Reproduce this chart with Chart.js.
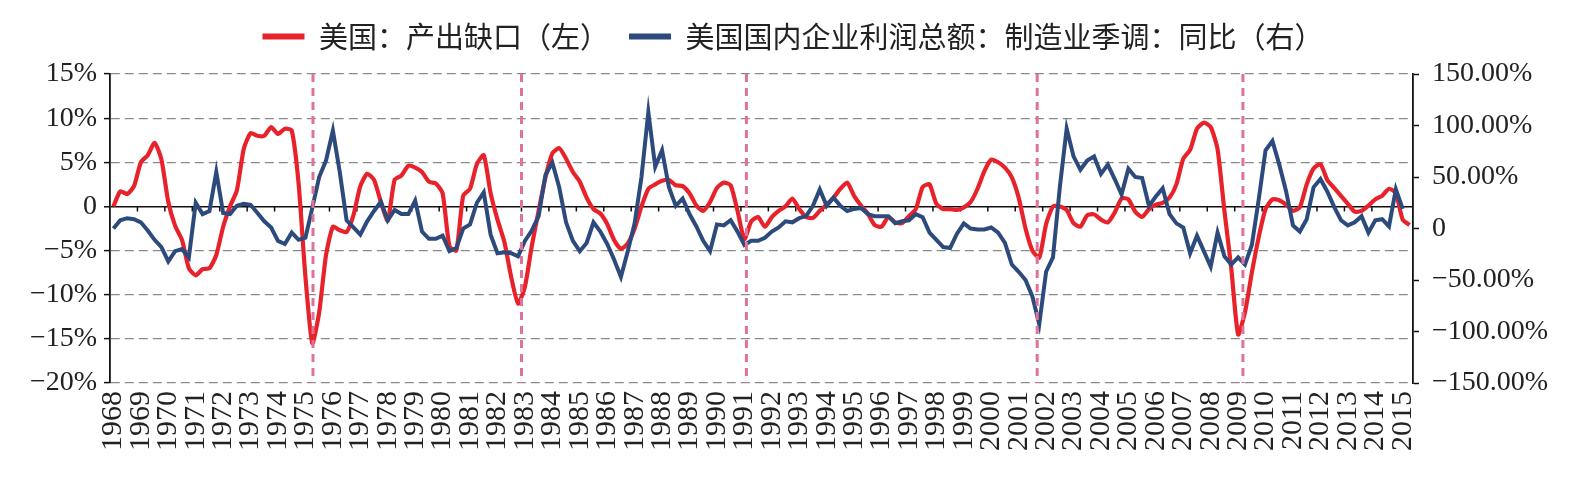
<!DOCTYPE html>
<html>
<head>
<meta charset="utf-8">
<script src="https://cdn.jsdelivr.net/npm/chart.js@4.4.0/dist/chart.umd.min.js"></script>
<style>
  html, body { margin: 0; padding: 0; background: #fff; }
  #wrap { width: 1586px; height: 477px; }
</style>
</head>
<body>
<div id="wrap"><canvas id="gapChart"></canvas></div>
<script>
// quarterly categories, 1968Q1 .. 2015Q2
const quarters = [];
for (let y = 1968; quarters.length < 190; y++) {
    for (let q = 1; q <= 4 && quarters.length < 190; q++) quarters.push(y + 'Q' + q);
}

const gapLabel = '美国：产出缺口（左）';
const profitLabel = '美国国内企业利润总额：制造业季调：同比（右）';

// output gap, % (left axis)
const outputGap = [
    0.0, 1.7, 1.4, 2.3, 5.0, 5.8, 7.2, 5.3, 0.5, -2.2,
    -3.8, -7.0, -7.8, -7.1, -7.0, -5.5, -2.3, 0.0, 1.8, 6.5,
    8.3, 8.0, 8.0, 9.0, 8.2, 8.8, 8.6, 2.6, -8.0, -15.5,
    -12.0, -5.5, -2.3, -2.7, -2.9, -1.0, 2.3, 3.7, 3.0, 0.5,
    -1.6, 3.0, 3.5, 4.6, 4.4, 3.9, 2.8, 2.6, 1.5, -4.5,
    -5.0, 1.2, 2.0, 4.8, 5.8, 1.5, -1.5, -4.0, -8.0, -11.0,
    -9.1, -4.5, -0.5, 3.3, 6.0, 6.6, 5.4, 3.9, 2.8, 1.0,
    -0.3, -0.8, -2.0, -3.8, -4.8, -4.2, -2.5, 0.0, 2.0, 2.5,
    2.9, 3.0, 2.4, 2.3, 1.5, 0.1, -0.5, 0.5, 2.1, 2.7,
    2.4, -0.5, -3.7, -1.7, -1.2, -2.3, -1.2, -0.5, 0.0, 0.9,
    -0.3, -1.2, -1.3, -0.5, 0.2, 1.0, 2.0, 2.7, 1.2, 0.1,
    -0.8, -2.1, -2.3, -1.2, -1.8, -1.9, -1.1, -0.3, 2.2, 2.5,
    0.3, -0.3, -0.3, -0.4, -0.1, 0.5, 2.0, 4.0, 5.3, 5.0,
    4.4, 3.3, 1.0, -2.5, -5.0, -5.8, -2.0, 0.0, 0.0, -0.4,
    -1.9, -2.3, -1.0, -0.9, -1.5, -1.8, -0.7, 0.9, 0.8, -0.6,
    -1.2, -0.3, 0.2, 0.4, 1.0, 2.5, 5.4, 6.4, 8.8, 9.5,
    9.0, 6.5, -0.5, -7.0, -14.5, -12.0, -7.5, -3.5, -0.3, 0.8,
    0.7, 0.2, -0.5, -0.1, 2.5, 4.3, 4.8, 3.0, 2.1, 1.2,
    0.3, -0.6, -0.5, 0.1, 0.8, 1.2, 2.0, 1.5, -1.5, -2.1
];

// manufacturing corporate profits, yoy % (right axis)
const profitYoy = [
    0, 8, 10, 9, 6, -2, -11, -18, -32, -22,
    -20, -28, 25, 14, 17, 55, 15, 14, 22, 24,
    23, 15, 7, 1, -12, -15, -4, -11, -9, 20,
    50, 66, 95, 55, 8, 1, -6, 7, 17, 26,
    8, 18, 14, 14, 27, -3, -10, -10, -7, -22,
    -19, 0, 4, 25, 35, -6, -24, -23, -24, -27,
    -12, -2, 12, 52, 64, 40, 6, -12, -22, -14,
    6, -3, -15, -30, -47, -22, 5, 50, 113, 60,
    76, 40, 22, 29, 14, 2, -12, -22, 4, 3,
    8, -3, -16, -12, -12, -9, -3, 1, 7, 6,
    10, 12, 22, 38, 22, 30, 22, 17, 19, 20,
    14, 12, 12, 12, 5, 7, 8, 14, 11, -4,
    -11, -18, -19, -5, 5, 0, -1, -1, 1, -4,
    -14, -35, -42, -50, -66, -93, -42, -28, 40, 97,
    70, 57, 66, 70, 53, 62, 48, 33, 58, 50,
    49, 22, 31, 39, 14, 5, 1, -24, -7, -22,
    -37, -4, -27, -35, -28, -35, -16, 28, 76, 85,
    62, 36, 3, -3, 9, 40, 48, 36, 21, 8,
    3, 6, 12, -4, 8, 9, 2, 38, 19, null
];

// recession troughs (decimal years) marked with pink dashed lines
const troughDates = [1975.4, 1983.0, 1991.2, 2001.8, 2009.3];

const leftTicks = { min: -20, max: 15, step: 5 };
const rightTicks = { min: -150, max: 150, step: 50 };

const serif = "'Liberation Serif', 'Times New Roman', serif";
const cjk = "'Noto Sans CJK SC', 'Noto Sans', sans-serif";

function minus(v) {
    return v < 0 ? '\u2212' + (-v) : String(v);
}

const legendSpace = {
    id: 'legendSpace',
    beforeInit(chart) {
        const fit = chart.legend.fit;
        chart.legend.fit = function () {
            fit.bind(chart.legend)();
            this.height += 13;
        };
    }
};

const zeroTicks = {
    id: 'zeroTicks',
    beforeDatasetsDraw(chart) {
        const ctx = chart.ctx;
        const x = chart.scales.x;
        const y0 = chart.scales.y.getPixelForValue(0);
        ctx.save();
        ctx.strokeStyle = '#111';
        ctx.lineWidth = 1.5;
        ctx.beginPath();
        for (let i = 4; i < quarters.length; i += 4) {
            const px = x.getPixelForValue(i - 0.5);
            ctx.moveTo(px, y0);
            ctx.lineTo(px, y0 + 5);
        }
        ctx.stroke();
        ctx.restore();
    }
};

const troughLines = {
    id: 'troughLines',
    afterDatasetsDraw(chart) {
        const ctx = chart.ctx;
        const x = chart.scales.x;
        const area = chart.chartArea;
        ctx.save();
        ctx.strokeStyle = '#e0729a';
        ctx.lineWidth = 3;
        ctx.setLineDash([8, 6]);
        troughDates.forEach(d => {
            const px = x.getPixelForValue((d - 1968) * 4 - 0.5);
            ctx.beginPath();
            ctx.moveTo(px, area.top);
            ctx.lineTo(px, area.bottom);
            ctx.stroke();
        });
        ctx.restore();
    }
};

const ctx = document.getElementById('gapChart').getContext('2d');
const gapChart = new Chart(ctx, {
    type: 'line',
    data: {
        labels: quarters,
        datasets: [
            {
                label: gapLabel,
                data: outputGap,
                yAxisID: 'y',
                borderColor: '#e8222b',
                backgroundColor: '#e8222b',
                borderWidth: 4.2,
                pointRadius: 0,
                tension: 0.2,
                fill: false,
                order: 1
            },
            {
                label: profitLabel,
                data: profitYoy,
                yAxisID: 'y1',
                borderColor: '#2c4a7c',
                backgroundColor: '#2c4a7c',
                borderWidth: 4,
                pointRadius: 0,
                tension: 0,
                fill: false,
                order: 0
            }
        ]
    },
    options: {
        responsive: true,
        maintainAspectRatio: false,
        animation: false,
        devicePixelRatio: 1,
        layout: { padding: { top: 2, left: 0, right: 0, bottom: 0 } },
        plugins: {
            tooltip: { enabled: false },
            legend: {
                position: 'top',
                labels: {
                    font: { family: cjk, size: 29 },
                    color: '#222',
                    boxWidth: 42,
                    boxHeight: 6,
                    padding: 20,
                    sort: (a, b) => a.datasetIndex - b.datasetIndex,
                    generateLabels: chart => Chart.defaults.plugins.legend.labels
                        .generateLabels(chart).map(l => Object.assign(l, { lineWidth: 0 }))
                }
            }
        },
        scales: {
            x: {
                type: 'category',
                offset: true,
                grid: { display: false, drawTicks: false },
                border: { display: false },
                ticks: {
                    autoSkip: false,
                    minRotation: 90,
                    maxRotation: 90,
                    padding: 8,
                    color: '#222',
                    font: { family: serif, size: 30 },
                    callback: function (val) {
                        const lab = this.getLabelForValue(val);
                        return lab.endsWith('Q1') ? lab.slice(0, 4) : '';
                    }
                },
                afterFit: s => { s.height = 94; }
            },
            y: {
                position: 'left',
                min: leftTicks.min,
                max: leftTicks.max,
                ticks: {
                    stepSize: leftTicks.step,
                    padding: 7,
                    color: '#222',
                    font: { family: serif, size: 28 },
                    callback: v => v === 0 ? '0' : minus(v) + '%'
                },
                grid: {
                    color: c => (c.tick && c.tick.value === 0) ? '#111' : '#8a8a8a',
                    lineWidth: c => (c.tick && c.tick.value === 0) ? 1.6 : 1.2,
                    tickLength: 6,
                    tickColor: '#111',
                    tickWidth: 1.5,
                    tickBorderDash: []
                },
                border: {
                    display: true,
                    color: '#111',
                    width: 1.8,
                    dash: c => (c.tick && c.tick.value === 0) ? [] : [9, 5]
                },
                afterFit: s => { s.width = 110; }
            },
            y1: {
                position: 'right',
                min: rightTicks.min,
                max: rightTicks.max,
                ticks: {
                    stepSize: rightTicks.step,
                    padding: 13,
                    color: '#222',
                    font: { family: serif, size: 28 },
                    callback: v => v === 0 ? '0' : (v < 0 ? '\u2212' : '') + Math.abs(v).toFixed(2) + '%'
                },
                grid: {
                    drawOnChartArea: false,
                    tickLength: 6,
                    tickColor: '#111',
                    tickWidth: 1.5
                },
                border: { display: true, color: '#111', width: 1.8 },
                afterFit: s => { s.width = 173; }
            }
        }
    },
    plugins: [legendSpace, zeroTicks, troughLines]
});
</script>
</body>
</html>
